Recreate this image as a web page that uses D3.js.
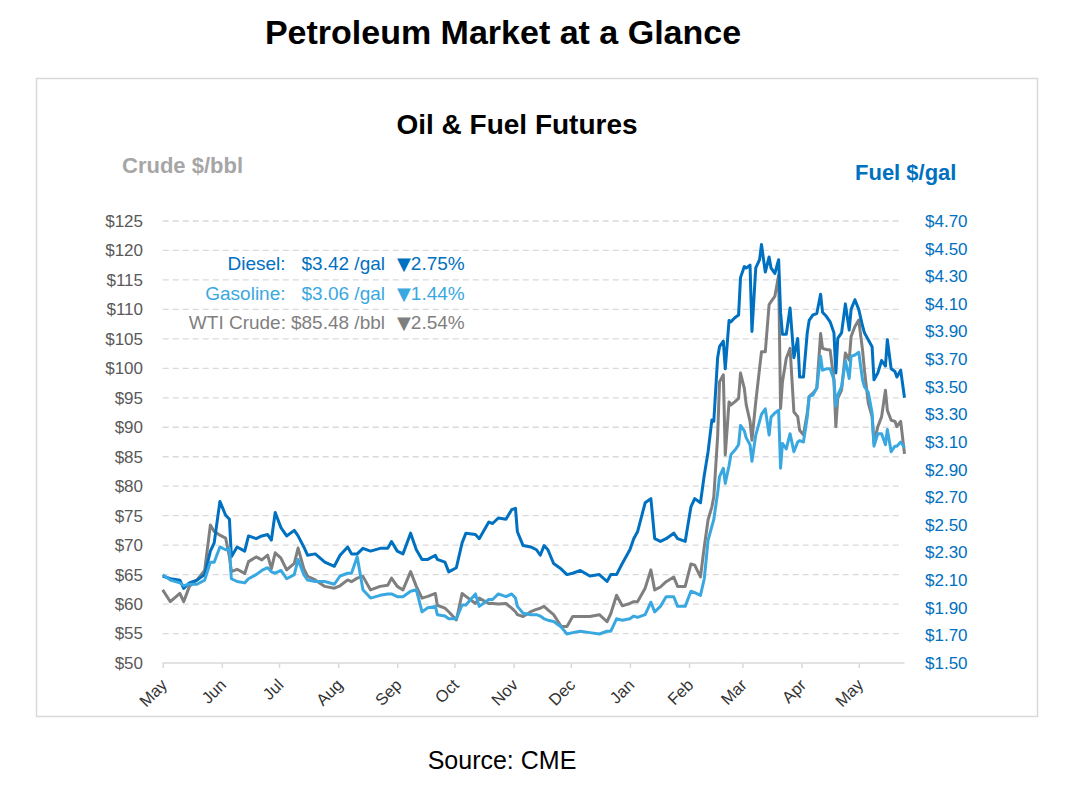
<!DOCTYPE html>
<html>
<head>
<meta charset="utf-8">
<script src="https://cdn.jsdelivr.net/npm/d3@7"></script>
<style>
  body { margin: 0; background: #fff; }
  text { font-family: "Liberation Sans", Arial, sans-serif; }
</style>
</head>
<body>
<div id="chart"></div>
<script>
// daily-ish readings, May 2021 - May 2022
var dates = [
  "2021-05-01","2021-05-05","2021-05-10","2021-05-12","2021-05-15","2021-05-19","2021-05-23","2021-05-26","2021-05-28","2021-05-31",
  "2021-06-03","2021-06-05","2021-06-06","2021-06-09","2021-06-13","2021-06-15","2021-06-19","2021-06-22","2021-06-25","2021-06-27","2021-06-29",
  "2021-07-02","2021-07-05","2021-07-09","2021-07-11","2021-07-14","2021-07-16","2021-07-20","2021-07-25","2021-07-30",
  "2021-08-02","2021-08-06","2021-08-08","2021-08-11","2021-08-14","2021-08-18","2021-08-23","2021-08-27","2021-08-29",
  "2021-09-01","2021-09-04","2021-09-08","2021-09-11","2021-09-14","2021-09-17","2021-09-21","2021-09-22","2021-09-26","2021-09-28",
  "2021-10-02","2021-10-05","2021-10-07","2021-10-12","2021-10-14","2021-10-19","2021-10-21","2021-10-24","2021-10-28","2021-10-31",
  "2021-11-02","2021-11-03","2021-11-06","2021-11-10","2021-11-13","2021-11-15","2021-11-17","2021-11-19","2021-11-22","2021-11-26","2021-11-29",
  "2021-12-02","2021-12-06","2021-12-11","2021-12-16","2021-12-20","2021-12-22","2021-12-25","2021-12-28",
  "2022-01-01","2022-01-03","2022-01-05","2022-01-09","2022-01-12","2022-01-14","2022-01-17","2022-01-20","2022-01-24","2022-01-26","2022-01-30",
  "2022-02-02","2022-02-04","2022-02-07","2022-02-09","2022-02-11","2022-02-13","2022-02-14","2022-02-16","2022-02-17","2022-02-19","2022-02-20",
  "2022-02-22","2022-02-23","2022-02-25","2022-02-27","2022-02-28",
  "2022-03-02","2022-03-03","2022-03-05","2022-03-06","2022-03-08","2022-03-10","2022-03-11","2022-03-13","2022-03-15","2022-03-16","2022-03-18",
  "2022-03-20","2022-03-21","2022-03-22","2022-03-24","2022-03-26","2022-03-28","2022-03-30","2022-03-31",
  "2022-04-02","2022-04-04","2022-04-05","2022-04-07","2022-04-09","2022-04-11","2022-04-12","2022-04-14","2022-04-16","2022-04-18","2022-04-19",
  "2022-04-20","2022-04-22","2022-04-24","2022-04-26","2022-04-27","2022-04-29",
  "2022-05-01","2022-05-03","2022-05-04","2022-05-06","2022-05-08","2022-05-09","2022-05-11","2022-05-13","2022-05-15","2022-05-16","2022-05-18",
  "2022-05-20","2022-05-21","2022-05-23","2022-05-25"
];

// Fuel $/gal (right axis)
var diesel = [
  2.13,2.11,2.10,2.04,2.08,2.10,2.14,2.31,2.37,2.67,
  2.57,2.54,2.27,2.34,2.31,2.42,2.40,2.42,2.43,2.39,2.59,
  2.48,2.42,2.46,2.42,2.34,2.28,2.29,2.23,2.20,
  2.28,2.34,2.29,2.29,2.33,2.31,2.33,2.33,2.38,
  2.31,2.29,2.44,2.32,2.25,2.25,2.28,2.25,2.23,2.16,
  2.19,2.37,2.44,2.43,2.40,2.52,2.51,2.55,2.54,2.61,
  2.62,2.45,2.35,2.34,2.32,2.28,2.35,2.32,2.22,2.18,2.14,
  2.15,2.17,2.13,2.14,2.09,2.14,2.14,2.22,
  2.32,2.40,2.45,2.66,2.69,2.40,2.38,2.40,2.44,2.40,2.38,
  2.63,2.69,2.66,2.86,3.03,3.26,3.25,3.71,3.79,3.83,3.63,
  3.98,3.97,4.00,4.02,4.29,
  4.37,4.36,4.38,3.90,4.36,4.42,4.53,4.33,4.44,4.36,4.32,
  4.42,4.04,3.88,3.88,4.07,3.71,3.85,3.57,
  3.57,3.89,3.98,4.02,4.03,4.17,4.04,4.01,3.97,3.89,3.60,
  3.85,3.89,4.10,3.91,4.06,4.13,
  4.06,3.94,3.89,3.84,3.79,3.55,3.60,3.69,3.65,3.84,3.63,
  3.61,3.57,3.62,3.42
];

var gasoline = [
  2.14,2.10,2.08,2.06,2.07,2.07,2.10,2.23,2.23,2.34,
  2.32,2.33,2.11,2.09,2.08,2.11,2.14,2.17,2.19,2.16,2.15,
  2.17,2.11,2.14,2.25,2.14,2.10,2.09,2.09,2.07,
  2.13,2.15,2.15,2.27,2.03,1.97,1.99,2.00,2.00,
  1.98,1.98,2.02,2.03,1.87,1.90,1.91,1.85,1.84,1.82,
  1.82,1.92,1.92,2.00,1.91,1.96,1.96,2.00,1.98,2.00,
  1.97,1.91,1.86,1.85,1.85,1.84,1.82,1.81,1.80,1.76,1.71,
  1.72,1.73,1.72,1.71,1.73,1.73,1.82,1.81,
  1.82,1.84,1.83,1.85,1.94,1.87,1.91,1.98,1.98,1.91,1.91,
  2.02,2.01,1.99,2.11,2.39,2.49,2.54,2.73,2.85,2.91,2.80,
  2.93,3.01,3.04,3.08,3.22,
  3.18,3.13,3.08,2.96,3.15,3.25,3.30,3.34,3.15,3.28,3.31,
  3.33,2.91,3.09,3.05,3.16,3.03,3.10,3.11,
  3.10,3.28,3.43,3.44,3.49,3.72,3.62,3.63,3.63,3.55,3.36,
  3.44,3.50,3.69,3.56,3.72,3.73,
  3.75,3.55,3.50,3.46,3.31,3.07,3.16,3.16,3.08,3.19,3.03,
  3.07,3.07,3.10,3.06
];

// Crude $/bbl (left axis)
var wti = [
  62.4,60.4,61.8,60.4,63.0,64.1,65.7,73.4,72.3,71.7,
  71.2,68.0,65.5,65.9,65.2,67.2,68.0,67.5,68.3,66.0,68.7,
  67.8,65.8,66.9,69.5,66.0,64.7,64.1,63.0,62.7,
  63.1,64.1,63.8,64.4,64.7,62.4,63.0,63.2,64.4,
  63.0,62.4,65.5,63.0,61.0,61.3,61.8,59.8,59.3,58.7,
  57.3,61.8,61.3,60.1,61.0,60.1,60.1,60.0,60.1,59.3,
  58.7,58.2,57.9,58.7,59.1,59.3,59.6,59.0,58.2,56.2,56.2,
  57.9,57.9,57.9,58.2,57.0,58.4,61.5,59.7,
  60.1,60.4,60.4,62.7,65.8,62.4,62.9,63.8,64.6,63.0,63.0,
  66.8,66.6,64.6,69.7,74.3,76.5,78.2,88.4,97.7,98.9,85.3,
  94.3,93.8,94.3,94.9,99.2,
  96.6,93.8,91.0,87.8,94.3,100.0,102.8,102.8,110.8,111.3,112.2,
  115.8,93.2,97.7,101.7,103.4,92.6,91.8,89.5,
  88.7,92.4,95.2,95.8,96.6,105.9,103.4,103.2,103.1,98.0,90.1,
  94.9,96.3,102.6,101.4,105.4,107.1,
  108.2,103.1,99.7,94.1,91.8,87.3,90.1,91.8,96.3,92.9,91.2,
  91.0,90.1,91.0,85.48
];

var crudeTicks = d3.range(50, 126, 5);
var fuelTicks = d3.range(16).map(function(i) { return 1.5 + i * 0.2; }).concat([4.7]);

var legendRows = [
  { name: "Diesel:", price: "$3.42 /gal", change: "2.75%", color: "#0070c0" },
  { name: "Gasoline:", price: "$3.06 /gal", change: "1.44%", color: "#3aa8e0" },
  { name: "WTI Crude:", price: "$85.48 /bbl", change: "2.54%", color: "#7f7f7f" }
];
var legendGaps = [16, 16, 5];

var W = 1070, H = 790;
var plot = { left: 162.7, right: 904.5, top: 221, bottom: 663 };
var colors = { diesel: "#0070c0", gasoline: "#3aa8e0", wti: "#7f7f7f" };

var parse = d3.timeParse("%Y-%m-%d");
var rows = dates.map(function(d, i) {
  return { date: parse(d), diesel: diesel[i], gasoline: gasoline[i], wti: wti[i] };
});

var svg = d3.select("#chart").append("svg")
  .attr("width", W)
  .attr("height", H);

svg.append("rect").attr("width", W).attr("height", H).attr("fill", "#fff");

svg.append("text")
  .attr("x", 503).attr("y", 44)
  .attr("text-anchor", "middle")
  .style("font-size", "34px").style("font-weight", "bold")
  .attr("fill", "#000")
  .text("Petroleum Market at a Glance");

svg.append("rect")
  .attr("x", 36.5).attr("y", 78.5)
  .attr("width", 1001).attr("height", 638)
  .attr("fill", "none").attr("stroke", "#d9d9d9").attr("stroke-width", 1.5);

svg.append("text")
  .attr("x", 517).attr("y", 134)
  .attr("text-anchor", "middle")
  .style("font-size", "28px").style("font-weight", "bold")
  .attr("fill", "#000")
  .text("Oil & Fuel Futures");

svg.append("text")
  .attr("x", 122).attr("y", 173)
  .style("font-size", "22px").style("font-weight", "bold")
  .attr("fill", "#a6a6a6")
  .text("Crude $/bbl");

svg.append("text")
  .attr("x", 855).attr("y", 180)
  .style("font-size", "22px").style("font-weight", "bold")
  .attr("fill", "#0070c0")
  .text("Fuel $/gal");

var x = d3.scaleTime()
  .domain([parse("2021-05-01"), parse("2022-05-25")])
  .range([plot.left, plot.right]);
var yCrude = d3.scaleLinear().domain([50, 125]).range([plot.bottom, plot.top]);
var yFuel = d3.scaleLinear().domain([1.5, 4.7]).range([plot.bottom, plot.top]);

// gridlines
svg.append("g").selectAll("line")
  .data(crudeTicks.filter(function(d) { return d > 50; }))
  .enter().append("line")
  .attr("x1", plot.left).attr("x2", 903)
  .attr("y1", function(d) { return yCrude(d); })
  .attr("y2", function(d) { return yCrude(d); })
  .attr("stroke", "#d9d9d9").attr("stroke-width", 1.3)
  .attr("stroke-dasharray", "6,4");

// left axis
var leftAxis = svg.append("g")
  .attr("transform", "translate(143,0)")
  .call(d3.axisLeft(yCrude).tickValues(crudeTicks).tickSize(0).tickPadding(0)
    .tickFormat(function(d) { return "$" + d; }));
leftAxis.select(".domain").remove();
leftAxis.selectAll("text")
  .style("font-size", "17px").attr("fill", "#595959");

// right axis
var rightAxis = svg.append("g")
  .attr("transform", "translate(925,0)")
  .call(d3.axisRight(yFuel).tickValues(fuelTicks).tickSize(0).tickPadding(0)
    .tickFormat(function(d) { return "$" + d.toFixed(2); }));
rightAxis.select(".domain").remove();
rightAxis.selectAll("text")
  .style("font-size", "17px").attr("fill", "#0070c0");

// bottom axis
var bottomAxis = svg.append("g")
  .attr("transform", "translate(0," + plot.bottom + ")")
  .call(d3.axisBottom(x).ticks(d3.timeMonth.every(1)).tickSize(5)
    .tickFormat(d3.timeFormat("%b")));
bottomAxis.select(".domain")
  .attr("stroke", "#d9d9d9").attr("stroke-width", 1.5)
  .attr("d", "M" + plot.left + ",0H" + plot.right);
bottomAxis.selectAll(".tick line").attr("stroke", "#d9d9d9").attr("stroke-width", 1.5);
bottomAxis.selectAll(".tick text")
  .style("font-size", "16.5px").attr("fill", "#333")
  .attr("text-anchor", "end")
  .attr("dy", 0).attr("y", 0)
  .attr("transform", "translate(5,23) rotate(-45)");

// lines
function drawLine(key, scale) {
  var line = d3.line()
    .x(function(d) { return x(d.date); })
    .y(function(d) { return scale(d[key]); });
  svg.append("path")
    .datum(rows)
    .attr("fill", "none")
    .attr("stroke", colors[key])
    .attr("stroke-width", 3)
    .attr("stroke-linejoin", "round")
    .attr("d", line);
}
drawLine("wti", yCrude);
drawLine("diesel", yFuel);
drawLine("gasoline", yFuel);

// legend
var legend = svg.append("g").selectAll("g")
  .data(legendRows)
  .enter().append("g")
  .attr("transform", function(d, i) { return "translate(0," + (270 + i * 29.5) + ")"; });

legend.append("text")
  .attr("class", "price")
  .attr("x", 385)
  .attr("text-anchor", "end")
  .style("font-size", "19px")
  .attr("fill", function(d) { return d.color; })
  .text(function(d) { return d.price; });

legend.append("text")
  .attr("x", function(d, i) {
    var w = d3.select(this.parentNode).select(".price").node().getComputedTextLength();
    return 385 - w - legendGaps[i];
  })
  .attr("text-anchor", "end")
  .style("font-size", "19px")
  .attr("fill", function(d) { return d.color; })
  .text(function(d) { return d.name; });

var change = legend.append("text")
  .attr("x", 397)
  .style("font-size", "19px")
  .attr("fill", function(d) { return d.color; });
change.append("tspan")
  .style("font-family", "'DejaVu Sans', sans-serif")
  .style("font-size", "18px")
  .text("\u25BC");
change.append("tspan")
  .text(function(d) { return d.change; });

svg.append("text")
  .attr("x", 502).attr("y", 769)
  .attr("text-anchor", "middle")
  .style("font-size", "25px")
  .attr("fill", "#000")
  .text("Source: CME");
</script>
</body>
</html>
